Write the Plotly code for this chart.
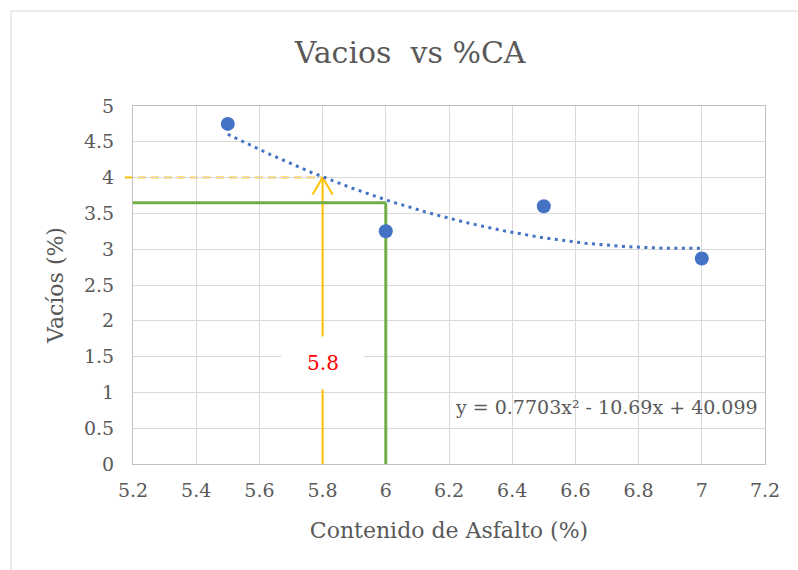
import numpy as np
import plotly.graph_objects as go

# Measured voids vs asphalt content
asfalto = [5.5, 6.0, 6.5, 7.0]
vacios = [4.75, 3.25, 3.6, 2.87]

# Second-order trendline coefficients (a, b, c) for y = a x^2 + b x + c
coef = [0.7703, -10.69, 40.099]

# Reference lines
x_opt = 5.8          # asphalt content read at target voids
y_target = 4.0       # target voids
x_design = 6.0
y_design = 3.65

x_ticks = [5.2, 5.4, 5.6, 5.8, 6.0, 6.2, 6.4, 6.6, 6.8, 7.0, 7.2]
x_tick_text = ["5.2", "5.4", "5.6", "5.8", "6", "6.2", "6.4", "6.6", "6.8", "7", "7.2"]
y_ticks = [0, 0.5, 1, 1.5, 2, 2.5, 3, 3.5, 4, 4.5, 5]
y_tick_text = ["0", "0.5", "1", "1.5", "2", "2.5", "3", "3.5", "4", "4.5", "5"]

X_RANGE = [5.2, 7.2]
Y_RANGE = [0, 5]

FONT = "DejaVu Serif"
GRAY = "#595959"
BLUE = "#4472c4"
ORANGE = "#ffc000"
GREEN = "#70ad47"

xt = np.linspace(min(asfalto), max(asfalto), 200)
yt = np.polyval(coef, xt)

fig = go.Figure()
fig.add_trace(go.Scatter(
    x=xt, y=yt, mode="lines",
    line=dict(color=BLUE, width=3, dash="3px,4.5px"),
    hoverinfo="skip", showlegend=False,
))
fig.add_trace(go.Scatter(
    x=asfalto, y=vacios, mode="markers",
    marker=dict(color=BLUE, size=14),
    showlegend=False,
))

shapes = []
# orange: target voids -> optimum content
x_frac = (x_opt - X_RANGE[0]) / (X_RANGE[1] - X_RANGE[0])
shapes.append(dict(type="line", xref="paper", yref="y", x0=-0.013, x1=x_frac,
                   y0=y_target, y1=y_target, layer="between",
                   line=dict(color=ORANGE, width=2, dash="8px,5px")))
shapes.append(dict(type="line", xref="x", yref="y", x0=x_opt, x1=x_opt,
                   y0=0, y1=y_target, layer="between",
                   line=dict(color=ORANGE, width=2)))
for dx in (-10, 10):
    shapes.append(dict(type="line", xref="x", yref="y",
                       xsizemode="pixel", ysizemode="pixel",
                       xanchor=x_opt, yanchor=y_target,
                       x0=0, x1=dx, y0=0, y1=-17, layer="between",
                       line=dict(color=ORANGE, width=2)))
# green: design content
shapes.append(dict(type="line", xref="x", yref="y", x0=X_RANGE[0], x1=x_design,
                   y0=y_design, y1=y_design, layer="between",
                   line=dict(color=GREEN, width=3)))
shapes.append(dict(type="line", xref="x", yref="y", x0=x_design, x1=x_design,
                   y0=0, y1=y_design, layer="between",
                   line=dict(color=GREEN, width=3)))
# chart border
shapes.append(dict(type="rect", xref="paper", yref="paper",
                   x0=(11 - 133) / 632, x1=1.2, y0=-0.5, y1=1 + (106 - 11) / 358,
                   line=dict(color="#d9d9d9", width=1), layer="below"))

annotations = [
    dict(x=x_opt, y=1.415, xref="x", yref="y", text=f"{x_opt:g}", showarrow=False,
         font=dict(family=FONT, size=20, color="#ff0000"),
         bgcolor="white", width=80, height=50, borderpad=1),
    dict(x=6.697, y=0.8, xref="x", yref="y",
         text=f"y = {coef[0]:g}x² - {abs(coef[1]):g}x + {coef[2]:g}",
         showarrow=False, font=dict(family=FONT, size=19, color=GRAY)),
]

fig.update_layout(
    width=798, height=570,
    margin=dict(l=133, r=33, t=106, b=106),
    paper_bgcolor="white", plot_bgcolor="white",
    title=dict(text="Vacios\u00a0 vs %CA", x=0.514, xref="container", xanchor="center",
               y=1 - 52 / 570, yref="container", yanchor="middle",
               font=dict(family=FONT, size=30, color=GRAY)),
    shapes=shapes, annotations=annotations,
    xaxis=dict(range=X_RANGE, tickvals=x_ticks, ticktext=x_tick_text,
               showgrid=True, gridcolor="#d9d9d9", gridwidth=1,
               showline=True, linecolor="#bfbfbf", linewidth=1, mirror=True,
               zeroline=False, ticks="outside", ticklen=9, tickcolor="rgba(0,0,0,0)",
               tickfont=dict(family=FONT, size=19, color=GRAY),
               title=dict(text="Contenido de Asfalto (%)", standoff=22,
                          font=dict(family=FONT, size=22, color=GRAY))),
    yaxis=dict(range=Y_RANGE, tickvals=y_ticks, ticktext=y_tick_text,
               showgrid=True, gridcolor="#d9d9d9", gridwidth=1,
               showline=True, linecolor="#bfbfbf", linewidth=1, mirror=True,
               zeroline=False, ticks="outside", ticklen=14, tickcolor="rgba(0,0,0,0)",
               tickfont=dict(family=FONT, size=19, color=GRAY),
               title=dict(text="Vacíos (%)", standoff=14,
                          font=dict(family=FONT, size=22, color=GRAY))),
)

fig.write_html("out.html")
